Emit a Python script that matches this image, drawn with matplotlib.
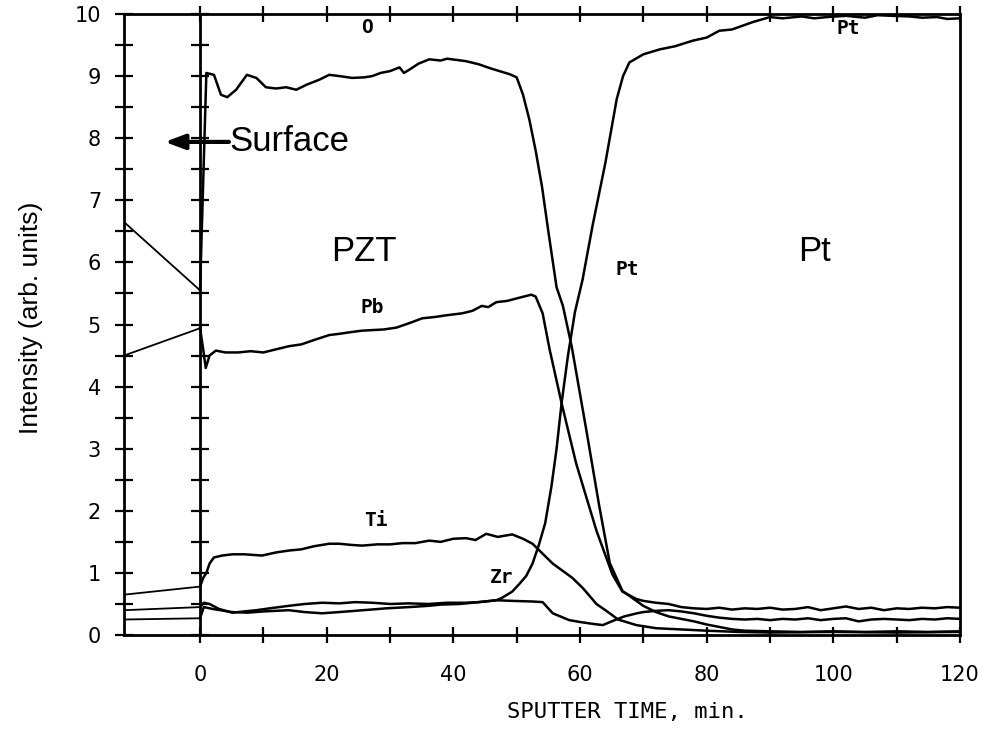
import matplotlib
matplotlib.use("Agg")
import matplotlib.pyplot as plt
from matplotlib.ticker import MultipleLocator, FixedLocator

plt.rcParams["font.family"] = "DejaVu Sans"

# ============================================================
# DATA
# ============================================================

o_x = [-12, 0, 1.0, 2.2, 3.3, 4.3, 5.7, 7.4, 8.9, 10.4, 12, 13.6, 15.2, 16.8, 18.8,
       20.4, 22, 24, 26, 27.2, 28.5, 30, 31.5, 32.2, 33, 34.5, 36.2, 38, 39, 40.5,
       42, 44, 46, 48.9, 50, 51, 52, 53, 54, 55, 56.3, 57.3, 58.7, 61, 63, 64.7,
       66.7, 68.9, 70, 72, 74, 76, 78, 80, 82, 84, 86, 90, 95, 100, 105, 110, 115, 120]
o_y = [6.65, 5.55, 9.05, 9.02, 8.7, 8.66, 8.78, 9.02, 8.97, 8.82, 8.8, 8.82, 8.78, 8.86, 8.94,
       9.02, 9.0, 8.97, 8.98, 9.0, 9.05, 9.08, 9.14, 9.05, 9.1, 9.2, 9.27, 9.25, 9.28, 9.26,
       9.24, 9.19, 9.12, 9.03, 8.98, 8.7, 8.3, 7.8, 7.22, 6.5, 5.6, 5.3, 4.64, 3.3, 2.1, 1.16,
       0.71, 0.55, 0.47, 0.37, 0.3, 0.26, 0.22, 0.17, 0.13, 0.09, 0.07, 0.06, 0.05, 0.06, 0.05, 0.06, 0.05, 0.06]

pb_x = [-12, 0, 0.5, 0.9, 1.5, 2.5, 4, 6, 8, 10, 12, 14, 16, 18, 20.4, 22, 24, 25.5,
        27.2, 29, 31, 33, 35.1, 37, 39, 41.4, 43, 44.5, 45.5, 46.8, 48.5, 50, 52.3, 53,
        54.1, 55.2, 57.1, 59.4, 62.6, 65.1, 66.7, 68.9, 70, 72, 74, 76, 78, 80, 82, 84,
        86, 88, 90, 92, 94, 96, 98, 100, 102, 104, 106, 108, 110, 112, 114, 116, 118, 120]
pb_y = [4.5, 4.94, 4.6, 4.3, 4.5, 4.58, 4.55, 4.55, 4.57, 4.55, 4.6, 4.65, 4.68, 4.75, 4.83, 4.85, 4.88, 4.9,
        4.91, 4.92, 4.95, 5.02, 5.1, 5.12, 5.15, 5.18, 5.22, 5.3, 5.28, 5.36, 5.38, 5.42, 5.48, 5.45,
        5.18, 4.6, 3.73, 2.76, 1.68, 0.98, 0.7, 0.58, 0.55, 0.52, 0.5, 0.45, 0.43, 0.42, 0.44, 0.41,
        0.43, 0.42, 0.44, 0.41, 0.42, 0.45, 0.4, 0.43, 0.46, 0.42, 0.44, 0.4, 0.43, 0.42, 0.44, 0.43, 0.45, 0.44]

ti_x = [-12, 0, 0.5, 1, 1.5, 2.2, 3.5, 5.1, 7, 9.8, 12, 14, 16, 18, 20.4, 22, 24, 25.6,
        28, 30, 32, 34, 36.2, 38, 40, 42, 43.5, 45.2, 47, 49.3, 51, 52.5, 55.7, 58.8,
        60.5, 62.6, 64.7, 66, 68.9, 72, 76, 80, 85, 90, 100, 110, 120]
ti_y = [0.65, 0.78, 0.92, 1.0, 1.15, 1.25, 1.28, 1.3, 1.3, 1.28, 1.33, 1.36, 1.38, 1.43, 1.47, 1.47, 1.45, 1.44,
        1.46, 1.46, 1.48, 1.48, 1.52, 1.5, 1.55, 1.56, 1.53, 1.63, 1.58, 1.62, 1.55, 1.47, 1.15, 0.92,
        0.75, 0.5, 0.35, 0.25, 0.16, 0.11, 0.09, 0.07, 0.05, 0.04, 0.05, 0.04, 0.05]

zr_x = [-12, 0, 0.6, 1.5, 3, 5.1, 7, 8.9, 11, 14, 16.5, 19.3, 22, 24.5, 27.2, 30, 33,
        36, 39, 42, 44, 46.8, 49.3, 52.5, 54.1, 55.7, 58.3, 60, 62, 63.6, 65, 67, 69,
        70, 72, 74, 76, 78, 80, 82, 84, 86, 88, 90, 92, 94, 96, 98, 100, 102, 104,
        106, 108, 110, 112, 114, 116, 118, 120]
zr_y = [0.4, 0.45, 0.52, 0.5, 0.42, 0.36, 0.38, 0.4, 0.43, 0.47, 0.5, 0.52, 0.51, 0.53, 0.52, 0.5, 0.51,
        0.5, 0.52, 0.52, 0.53, 0.56, 0.55, 0.54, 0.53, 0.35, 0.24, 0.21, 0.18, 0.16, 0.22, 0.3, 0.35,
        0.37, 0.39, 0.4, 0.38, 0.35, 0.31, 0.28, 0.26, 0.25, 0.26, 0.24, 0.26, 0.25, 0.27, 0.24, 0.26, 0.27, 0.22,
        0.25, 0.26, 0.25, 0.24, 0.26, 0.25, 0.27, 0.26]

pt_x = [-12, 0, 0.6, 2, 5, 7.5, 10, 14, 16.5, 19.3, 22, 24.5, 27, 29.4, 33, 36, 38,
        41, 43, 45, 46.8, 47.7, 49.3, 50.4, 51.5, 52.5, 53.5, 54.5, 55.5, 56.3, 57.1,
        58.1, 59.2, 60.4, 62, 64, 65.8, 66.8, 67.8, 70, 72.6, 75, 77.8, 80, 82, 84,
        87.3, 90, 92, 95, 97, 99, 102, 105, 107, 109.4, 112, 114, 116.4, 118, 120]
pt_y = [0.25, 0.27, 0.45, 0.42, 0.37, 0.36, 0.38, 0.4, 0.37, 0.35, 0.37, 0.39, 0.41, 0.43, 0.45, 0.47, 0.49,
        0.5, 0.52, 0.54, 0.56, 0.6, 0.7, 0.82, 0.95, 1.15, 1.45, 1.8, 2.4, 3.0, 3.74,
        4.5, 5.2, 5.72, 6.6, 7.6, 8.63, 9.0, 9.22, 9.35, 9.43, 9.48, 9.57, 9.62, 9.73, 9.75,
        9.87, 9.95, 9.93, 9.96, 9.93, 9.95, 9.97, 9.94, 9.98, 9.97, 9.96, 9.94, 9.95, 9.92, 9.93]

series = [(o_x, o_y), (pb_x, pb_y), (ti_x, ti_y), (zr_x, zr_y), (pt_x, pt_y)]

# curve labels: (text, x, y)
curve_labels = [("O", 26.4, 9.79), ("Pb", 27.2, 5.27), ("Ti", 27.7, 1.85),
                ("Zr", 47.7, 0.93), ("Pt", 67.4, 5.88), ("Pt", 102.3, 9.77)]

x_major = [0, 20, 40, 60, 80, 100, 120]
x_minor = [10, 30, 50, 70, 90, 110]

# ============================================================
# PLOT
# ============================================================

fig = plt.figure(figsize=(9.86, 7.35), dpi=100)
ax = fig.add_axes([0.1258, 0.136, 0.8478, 0.845])

for xs, ys in series:
    # pre-sputter segment drawn thinner
    ax.plot(xs[:2], ys[:2], color="black", lw=1.3, solid_capstyle="round")
    ax.plot(xs[1:], ys[1:], color="black", lw=1.8, solid_joinstyle="round")

ax.set_xlim(-12, 120)
ax.set_ylim(0, 10)

ax.xaxis.set_major_locator(FixedLocator(x_major))
ax.xaxis.set_minor_locator(FixedLocator(x_minor))
ax.yaxis.set_major_locator(MultipleLocator(1))
ax.yaxis.set_minor_locator(MultipleLocator(0.5))

ax.tick_params(axis="x", which="both", direction="inout", length=11, width=1.6,
               top=True, bottom=True, labeltop=False, pad=16, labelsize=15)
ax.tick_params(axis="y", which="both", direction="inout", length=13, width=1.6,
               left=True, right=False, pad=10, labelsize=15)

for s in ax.spines.values():
    s.set_linewidth(2.0)

# second vertical axis at t = 0
ax0 = ax.twinx()
ax0.set_ylim(0, 10)
ax0.yaxis.set_major_locator(MultipleLocator(1))
ax0.yaxis.set_minor_locator(MultipleLocator(0.5))
ax0.yaxis.set_ticks_position("left")
ax0.spines["left"].set_position(("data", 0))
ax0.spines["left"].set_visible(True)
ax0.spines["left"].set_linewidth(2.0)
for k in ["top", "bottom", "right"]:
    ax0.spines[k].set_visible(False)
ax0.tick_params(axis="y", which="both", direction="inout", length=13, width=1.6,
                labelleft=False, labelright=False)

for txt, x, y in curve_labels:
    ax.text(x, y, txt, ha="center", va="center", fontsize=14, fontweight="bold",
            family="DejaVu Sans Mono")

# annotations
ax.annotate("", xy=(-6.0, 7.94), xytext=(5.0, 7.94),
            arrowprops=dict(arrowstyle="-|>,head_length=1.2,head_width=0.45",
                            color="black", lw=3))
ax.text(4.6, 7.94, "Surface", ha="left", va="center", fontsize=25, family="Liberation Sans")
ax.text(25.8, 6.17, "PZT", ha="center", va="center", fontsize=25, family="Liberation Sans")
ax.text(97.1, 6.17, "Pt", ha="center", va="center", fontsize=25, family="Liberation Sans")

fig.text(0.031, 1 - 318 / 735, "Intensity (arb. units)", rotation=90, ha="center",
         va="center", fontsize=19, family="Liberation Sans")
fig.text(627 / 986, 1 - 712 / 735, "SPUTTER TIME, min.", ha="center", va="center",
         fontsize=16, family="DejaVu Sans Mono")

fig.savefig("out.png", dpi=100)
